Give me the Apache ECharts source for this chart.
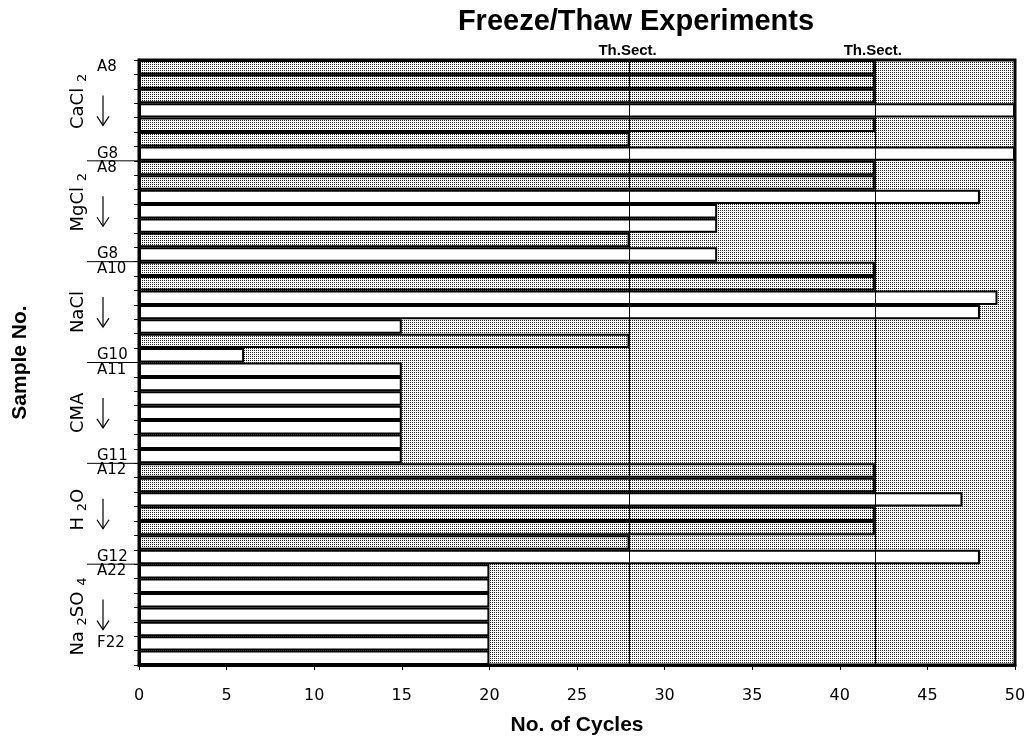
<!DOCTYPE html>
<html>
<head>
<meta charset="utf-8">
<script src="https://cdn.jsdelivr.net/npm/echarts@6/dist/echarts.min.js"></script>
<style>html,body{margin:0;padding:0;background:#fff}#c{width:1029px;height:744px}</style>
</head>
<body>
<div id="c"></div>
<script>
// ---------------- data ----------------
const groupNames = ['CaCl {s|2}', 'MgCl {s|2}', 'NaCl', 'CMA', 'H {s|2}O', 'Na {s|2}SO {s|4}'];
const samples = [
  'CaCl2-A8','CaCl2-B8','CaCl2-C8','CaCl2-D8','CaCl2-E8','CaCl2-F8','CaCl2-G8',
  'MgCl2-A8','MgCl2-B8','MgCl2-C8','MgCl2-D8','MgCl2-E8','MgCl2-F8','MgCl2-G8',
  'NaCl-A10','NaCl-B10','NaCl-C10','NaCl-D10','NaCl-E10','NaCl-F10','NaCl-G10',
  'CMA-A11','CMA-B11','CMA-C11','CMA-D11','CMA-E11','CMA-F11','CMA-G11',
  'H2O-A12','H2O-B12','H2O-C12','H2O-D12','H2O-E12','H2O-F12','H2O-G12',
  'Na2SO4-A22','Na2SO4-B22','Na2SO4-C22','Na2SO4-D22','Na2SO4-E22','Na2SO4-F22','Na2SO4-G22'
];
const sampleLabels = [
  'A8','','','','','','G8',
  'A8','','','','','','G8',
  'A10','','','','','','G10',
  'A11','','','','','','G11',
  'A12','','','','','','G12',
  'A22','','','','','F22',''
];
const cycles = [
  42,42,42,50,42,28,50,
  42,42,48,33,33,28,33,
  42,42,49,48,15,28,6,
  15,15,15,15,15,15,15,
  42,42,47,42,42,28,48,
  20,20,20,20,20,20,20
];
// S = stippled (shaded) bar, C = clear bar
const condition = [
  'S','S','S','C','S','S','C',
  'S','S','C','C','C','S','C',
  'S','S','C','C','C','S','C',
  'C','C','C','C','C','C','C',
  'S','S','C','S','S','S','C',
  'C','C','C','C','C','C','C'
];
const groupSize = 7;
const thinSectionCycles = [28, 42];
const thinSectionLabel = 'Th.Sect.';
const xMin = 0, xMax = 50, xStep = 5;

// ---------------- styles ----------------
const pc = document.createElement('canvas');
pc.width = 2; pc.height = 2;
const g2 = pc.getContext('2d');
g2.fillStyle = '#ffffff'; g2.fillRect(0, 0, 2, 2);
g2.fillStyle = '#222222'; g2.fillRect(0, 0, 1, 1);
const stipple = { image: pc, repeat: 'repeat' };

const chart = echarts.init(document.getElementById('c'), null, { renderer: 'canvas' });

const option = {
  animation: false,
  backgroundColor: '#ffffff',
  grid: {
    left: 139, right: 14, top: 60, bottom: 79,
    show: true, backgroundColor: stipple, borderColor: '#000', borderWidth: 3
  },
  xAxis: {
    type: 'value', min: xMin, max: xMax, interval: xStep,
    axisLine: { show: true, lineStyle: { color: '#000', width: 3 } },
    axisTick: { show: true, length: 5, lineStyle: { color: '#000', width: 1 } },
    splitLine: { show: false },
    axisLabel: { margin: 23, color: '#000', fontFamily: 'DejaVu Sans', fontSize: 16 },
    name: 'No. of Cycles', nameLocation: 'middle', nameGap: 50,
    nameTextStyle: { fontWeight: 'bold', fontSize: 21, fontFamily: 'Liberation Sans', color: '#000' }
  },
  yAxis: {
    type: 'category', data: samples, inverse: true,
    axisLine: { show: true, lineStyle: { color: '#000', width: 3 } },
    axisTick: { show: true, interval: 0, length: 5, lineStyle: { color: '#000', width: 1 } },
    axisLabel: {
      interval: 0, align: 'left', margin: 42, color: '#000',
      fontFamily: 'DejaVu Sans', fontSize: 15, padding: [4, 0, 0, 0],
      formatter: (v, i) => sampleLabels[i]
    },
    name: 'Sample No.', nameLocation: 'middle', nameGap: 108, nameRotate: 90,
    nameTextStyle: { fontWeight: 'bold', fontSize: 21, fontFamily: 'Liberation Sans', color: '#000' }
  },
  series: [{
    type: 'bar',
    barCategoryGap: '0%',
    barWidth: '100%',
    data: cycles.map((v, i) => ({
      value: v,
      itemStyle: { color: condition[i] === 'S' ? stipple : '#ffffff' }
    })),
    itemStyle: { borderColor: '#000', borderWidth: 2 },
    markLine: {
      silent: true, symbol: 'none', animation: false,
      label: { show: false },
      lineStyle: { color: '#000', width: 1, type: 'solid' },
      data: thinSectionCycles.map(v => ({ xAxis: v }))
    }
  }]
};
chart.setOption(option);

// ---------------- annotations positioned from the axes ----------------
const labelNudge = [-9, -9, 0, 0, -4, 2];
const rowY = i => chart.convertToPixel({ yAxisIndex: 0 }, i);
const plotLeft = chart.convertToPixel({ xAxisIndex: 0 }, xMin);
const elements = [];

elements.push({
  type: 'text', x: 636, y: 22,
  style: { text: 'Freeze/Thaw Experiments', fill: '#000', font: 'bold 29px "Liberation Sans"', align: 'center', verticalAlign: 'middle' }
});
thinSectionCycles.forEach(v => {
  elements.push({
    type: 'text', x: chart.convertToPixel({ xAxisIndex: 0 }, v) - 2, y: 51,
    style: { text: thinSectionLabel, fill: '#000', font: 'bold 15px "Liberation Sans"', align: 'center', verticalAlign: 'middle' }
  });
});

const nGroups = groupNames.length;
for (let gi = 0; gi < nGroups; gi++) {
  const first = gi * groupSize, last = first + groupSize - 1;
  const half = (rowY(1) - rowY(0)) / 2;
  const top = rowY(first) - half, bottom = rowY(last) + half;
  const cy = (top + bottom) / 2;
  elements.push({
    type: 'text', x: 78, y: cy + labelNudge[gi], rotation: Math.PI / 2,
    style: {
      text: groupNames[gi], fill: '#000', fontSize: 18, fontFamily: 'DejaVu Sans',
      align: 'center', verticalAlign: 'middle', lineHeight: 22,
      rich: { s: { fontSize: 13, fontFamily: 'DejaVu Sans', fill: '#000', verticalAlign: 'bottom', lineHeight: 22 } }
    }
  });
  elements.push({
    type: 'polyline', shape: { points: [[103, cy - 15], [103, cy + 15]] },
    style: { stroke: '#000', lineWidth: 1.2, fill: null }
  });
  elements.push({
    type: 'polyline', shape: { points: [[97, cy + 6], [103, cy + 15], [109, cy + 6]] },
    style: { stroke: '#000', lineWidth: 1.2, fill: null }
  });
  if (gi < nGroups - 1) {
    elements.push({
      type: 'line', shape: { x1: 87, y1: bottom, x2: plotLeft, y2: bottom },
      style: { stroke: '#000', lineWidth: 1 }
    });
  }
}
chart.setOption({ graphic: { elements } });
</script>
</body>
</html>
